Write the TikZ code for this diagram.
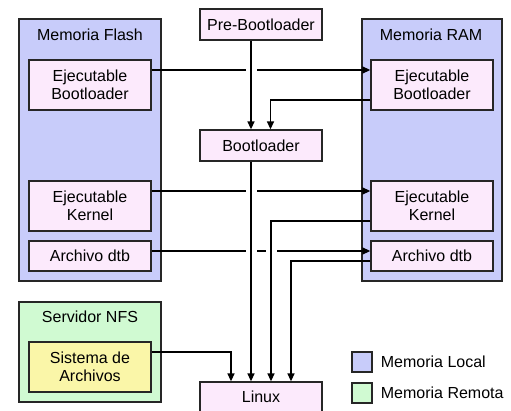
\documentclass[tikz,border=0pt]{standalone}
\usepackage{fontspec}
\setmainfont{Liberation Sans}
\usetikzlibrary{arrows.meta}
\definecolor{memblue}{RGB}{200,204,250}
\definecolor{mempink}{RGB}{252,234,252}
\definecolor{memgreen}{RGB}{208,250,210}
\definecolor{memyellow}{RGB}{250,246,168}
\begin{document}
\begin{tikzpicture}[x=1pt,y=-1pt, font=\fontsize{16}{18}\selectfont,
  region/.style={draw=black!85, line width=1.3pt, inner sep=0pt},
  blk/.style={draw=black!85, fill=mempink, line width=1.3pt, inner sep=0pt, align=center, minimum width=122pt},
  arr/.style={line width=1.4pt, -{Triangle[length=8pt,width=7pt]}},
  gap/.style={draw=white, line width=11pt, line cap=butt}]
\useasboundingbox (0,0) rectangle (511,410);
% regions
\node[region, fill=memblue, minimum width=142pt, minimum height=262pt] (flash) at (90,150) {};
\node (flasht) at (90,35) {Memoria Flash};
\node[region, fill=memblue, minimum width=140pt, minimum height=262pt] (ram) at (432,150) {};
\node (ramt) at (431,35) {Memoria RAM};
\node[region, fill=memgreen, minimum width=142pt, minimum height=100pt] (nfs) at (90,352) {};
\node (nfst) at (90,317) {Servidor NFS};
% blocks
\node[blk, minimum height=50pt] (ebf) at (90,85) {Ejecutable\\Bootloader};
\node[blk, minimum height=50pt] (ekf) at (90,206) {Ejecutable\\Kernel};
\node[blk, minimum height=30pt] (dtbf) at (90,256) {Archivo dtb};
\node[blk, minimum height=50pt] (ebr) at (432,85) {Ejecutable\\Bootloader};
\node[blk, minimum height=50pt] (ekr) at (432,206) {Ejecutable\\Kernel};
\node[blk, minimum height=30pt] (dtbr) at (432,256) {Archivo dtb};
\node[blk, minimum height=50pt, fill=memyellow] (fs) at (90,367) {Sistema de\\Archivos};
\node[blk, minimum height=31pt] (pre) at (261,24.5) {Pre-Bootloader};
\node[blk, minimum height=31pt] (boot) at (261,145.5) {Bootloader};
\node[blk, minimum height=30pt] (linux) at (261,397) {Linux};
% legend
\node[region, fill=memblue, minimum size=20pt] (lgl) at (362,362) {};
\node[anchor=west, inner sep=0pt] (lgltext) at ([xshift=8pt]lgl.east) {Memoria Local};
\node[region, fill=memgreen, minimum size=20pt] (lgr) at (362,393) {};
\node[anchor=west, inner sep=0pt] (lgrtext) at ([xshift=8pt]lgr.east) {Memoria Remota};
% horizontal connectors
\draw[arr] ([yshift=15pt]ebf.east) -- ([yshift=15pt]ebr.west);
\draw[arr] ([yshift=15pt]ekf.east) -- ([yshift=15pt]ekr.west);
\draw[arr] ([yshift=5pt]dtbf.east) -- ([yshift=5pt]dtbr.west);
% line-jump gaps
\draw[gap] (251,68) -- (251,72);
\draw[gap] (251,189) -- (251,193);
\draw[gap] (251,249) -- (251,253);
\draw[gap] (271.5,249) -- (271.5,253);
% vertical connectors
\draw[arr] ([xshift=-10pt]pre.south) -- ([xshift=-10pt]boot.north);
\draw[arr] ([xshift=-10pt]boot.south) -- ([xshift=-10pt]linux.north);
\draw[arr] ([yshift=-15pt]ebr.west) -| ([xshift=9.5pt]boot.north);
\draw[arr] ([yshift=-15pt]ekr.west) -| ([xshift=10pt]linux.north);
\draw[arr] ([yshift=-5pt]dtbr.west) -| ([xshift=30pt]linux.north);
\draw[arr] ([yshift=15pt]fs.east) -| ([xshift=-30pt]linux.north);
\end{tikzpicture}
\end{document}
